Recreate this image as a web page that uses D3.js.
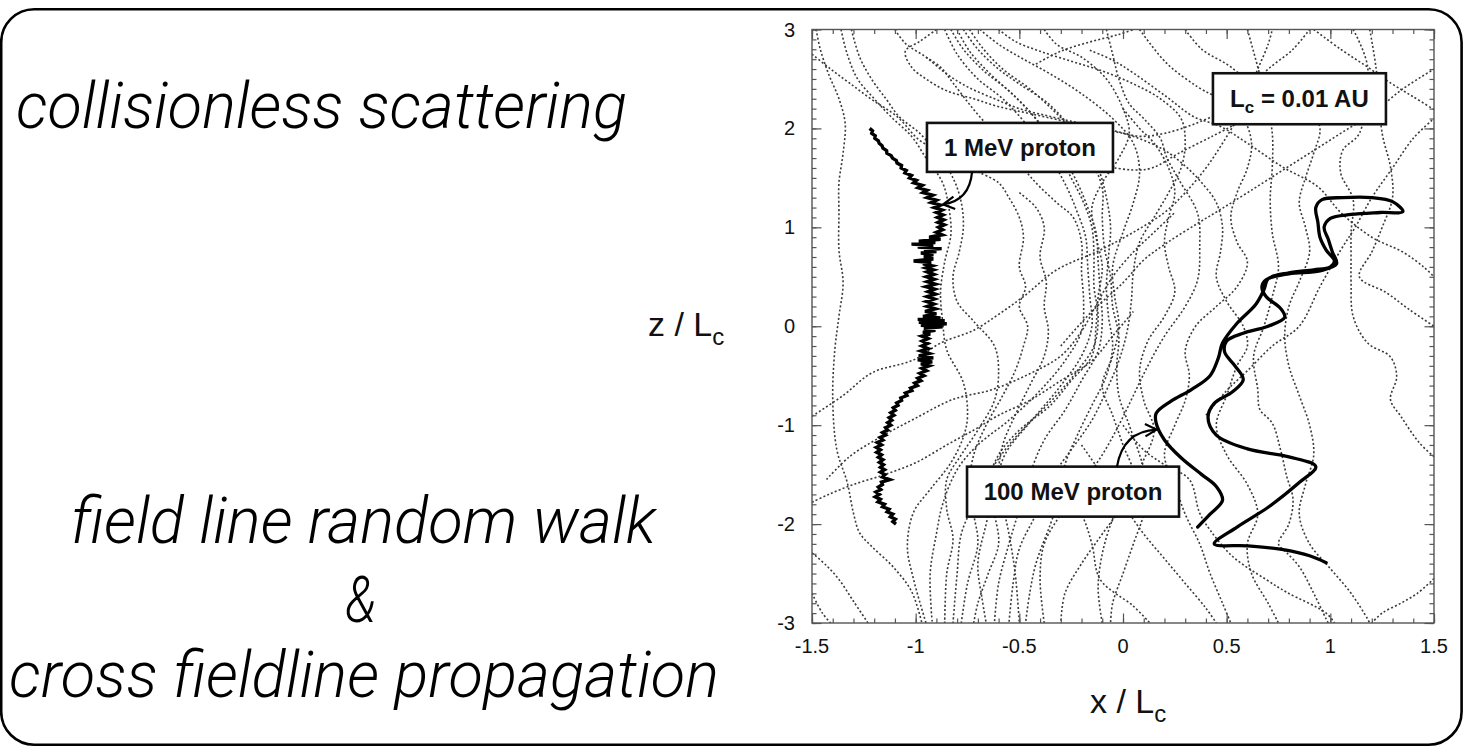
<!DOCTYPE html>
<html>
<head>
<meta charset="utf-8">
<script src="https://cdn.jsdelivr.net/npm/d3@7"></script>
<style>
  html, body { margin: 0; padding: 0; background: #fff; }
  svg { display: block; }
</style>
</head>
<body>
<svg id="fig" width="1463" height="748"></svg>
<script>
// ---------- axis ticks ----------
const xTicks = [-1.5, -1, -0.5, 0, 0.5, 1, 1.5];
const xTickLabels = ["-1.5", "-1", "-0.5", "0", "0.5", "1", "1.5"];
const zTicks = [-3, -2, -1, 0, 1, 2, 3];
const zTickLabels = ["-3", "-2", "-1", "0", "1", "2", "3"];

// ---------- side headings ----------
const headingTop = "collisionless scattering";
const headingBottom = ["field line random walk", "&", "cross fieldline propagation"];

// ---------- annotation texts ----------
const label1MeV = "1 MeV proton";
const label100MeV = "100 MeV proton";
const labelLc = ["L", "c", " = 0.01 AU"];

// ---------- 1 MeV proton trajectory [x/Lc, z/Lc] ----------
const proton1MeV = [
  [-1.222,2.000],[-1.208,1.975],[-1.212,1.950],[-1.195,1.925],[-1.197,1.900],[-1.180,1.875],
  [-1.176,1.850],[-1.162,1.825],[-1.158,1.800],[-1.140,1.775],[-1.139,1.750],[-1.118,1.725],
  [-1.112,1.700],[-1.093,1.675],[-1.090,1.650],[-1.068,1.625],[-1.070,1.600],[-1.045,1.575],
  [-1.052,1.550],[-1.020,1.525],[-1.030,1.500],[-0.996,1.475],[-1.010,1.450],[-0.968,1.425],
  [-0.988,1.400],[-0.945,1.375],[-0.965,1.350],[-0.918,1.325],[-0.945,1.300],[-0.900,1.275],
  [-0.925,1.250],[-0.880,1.225],[-0.910,1.200],[-0.872,1.175],[-0.900,1.150],[-0.868,1.125],
  [-0.895,1.100],[-0.865,1.075],[-0.892,1.050],[-0.862,1.025],[-0.890,1.000],[-0.870,0.975],
  [-0.900,0.950],[-0.872,0.925],[-0.935,0.900],[-0.880,0.880],[-0.985,0.860],[-0.905,0.845],
  [-1.020,0.830],[-0.915,0.815],[-0.990,0.800],[-0.875,0.785],[-0.960,0.770],[-0.900,0.755],
  [-0.975,0.740],[-0.915,0.725],[-0.960,0.700],[-0.915,0.680],[-1.010,0.660],[-0.925,0.645],
  [-0.965,0.630],[-0.920,0.610],[-0.950,0.590],[-0.915,0.570],[-0.945,0.550],[-0.912,0.525],
  [-0.948,0.500],[-0.910,0.475],[-0.945,0.450],[-0.905,0.425],[-0.950,0.400],[-0.908,0.375],
  [-0.940,0.350],[-0.905,0.325],[-0.945,0.300],[-0.910,0.275],[-0.948,0.250],[-0.912,0.225],
  [-0.945,0.200],[-0.905,0.175],[-0.955,0.150],[-0.900,0.125],[-0.965,0.100],[-0.880,0.085],
  [-0.990,0.070],[-0.860,0.055],[-0.985,0.040],[-0.850,0.025],[-0.975,0.010],[-0.870,-0.005],
  [-0.960,-0.020],[-0.905,-0.040],[-0.965,-0.060],[-0.930,-0.080],[-0.970,-0.100],[-0.940,-0.125],
  [-0.968,-0.150],[-0.942,-0.175],[-0.970,-0.200],[-0.940,-0.225],[-0.975,-0.250],[-0.935,-0.275],
  [-0.985,-0.300],[-0.915,-0.320],[-0.990,-0.340],[-0.920,-0.360],[-0.975,-0.380],[-0.935,-0.400],
  [-0.970,-0.425],[-0.948,-0.450],[-0.980,-0.475],[-0.960,-0.500],[-0.990,-0.525],[-0.975,-0.550],
  [-1.005,-0.575],[-0.992,-0.600],[-1.025,-0.625],[-1.018,-0.650],[-1.050,-0.675],[-1.042,-0.700],
  [-1.072,-0.725],[-1.068,-0.750],[-1.092,-0.775],[-1.085,-0.800],[-1.108,-0.825],[-1.098,-0.850],
  [-1.120,-0.875],[-1.105,-0.900],[-1.128,-0.925],[-1.115,-0.950],[-1.135,-0.975],[-1.120,-1.000],
  [-1.145,-1.025],[-1.135,-1.050],[-1.160,-1.075],[-1.145,-1.100],[-1.172,-1.125],[-1.158,-1.150],
  [-1.185,-1.175],[-1.165,-1.200],[-1.190,-1.225],[-1.170,-1.250],[-1.188,-1.275],[-1.165,-1.300],
  [-1.180,-1.325],[-1.158,-1.350],[-1.175,-1.375],[-1.155,-1.400],[-1.170,-1.425],[-1.150,-1.450],
  [-1.170,-1.475],[-1.148,-1.500],[-1.160,-1.525],[-1.125,-1.550],[-1.165,-1.575],[-1.160,-1.600],
  [-1.180,-1.625],[-1.168,-1.650],[-1.192,-1.675],[-1.175,-1.700],[-1.195,-1.725],[-1.170,-1.750],
  [-1.182,-1.775],[-1.150,-1.800],[-1.160,-1.825],[-1.128,-1.850],[-1.138,-1.875],[-1.110,-1.900],
  [-1.122,-1.925],[-1.098,-1.950],[-1.110,-1.975],[-1.095,-2.000]
];

// ---------- 100 MeV proton trajectory [x/Lc, z/Lc] ----------
const proton100MeV = [
  [0.36,-2.03],[0.42,-1.90],[0.48,-1.76],[0.45,-1.62],[0.38,-1.50],[0.28,-1.33],[0.20,-1.15],
  [0.16,-0.98],[0.16,-0.88],[0.23,-0.76],[0.33,-0.64],[0.42,-0.50],[0.46,-0.32],[0.48,-0.17],
  [0.55,0.03],[0.64,0.22],[0.68,0.37],[0.70,0.48],[0.80,0.54],[0.92,0.57],[1.00,0.60],
  [1.02,0.66],[0.98,0.77],[0.95,0.90],[0.94,1.05],[0.93,1.20],[0.96,1.28],[1.06,1.30],
  [1.20,1.30],[1.30,1.26],[1.35,1.16],[1.24,1.15],[1.10,1.13],[1.00,1.09],[0.97,1.00],
  [0.99,0.88],[1.01,0.75],[1.03,0.63],[0.95,0.56],[0.80,0.53],[0.69,0.47],[0.67,0.40],
  [0.69,0.30],[0.76,0.18],[0.78,0.09],[0.70,0.00],[0.58,-0.07],[0.50,-0.15],[0.49,-0.26],
  [0.54,-0.40],[0.58,-0.54],[0.53,-0.66],[0.44,-0.78],[0.41,-0.92],[0.45,-1.10],[0.60,-1.24],
  [0.80,-1.32],[0.93,-1.42],[0.85,-1.58],[0.70,-1.83],[0.55,-2.03],[0.44,-2.20],[0.60,-2.22],
  [0.78,-2.26],[0.90,-2.32],[0.98,-2.39]
];

// ---------- traced magnetic field lines [x/Lc, z/Lc] ----------
const fieldLines = [
  [[-1.48,3],[-1.46,2.8],[-1.42,2.55],[-1.37,2.3],[-1.34,2.05],[-1.35,1.75],[-1.37,1.45],[-1.37,1.15],[-1.37,0.77],[-1.35,0.44],[-1.37,0.1],[-1.39,-0.24],[-1.4,-0.74],[-1.38,-1.25],[-1.33,-1.58],[-1.3,-1.89],[-1.27,-2.09],[-1.21,-2.23],[-1.11,-2.43],[-1.02,-2.68],[-0.97,-3]],
  [[-1.5,2.75],[-1.41,2.6],[-1.32,2.46],[-1.21,2.29],[-1.09,2.12],[-0.96,1.85],[-0.8,1.78],[-0.55,1.74],[-0.3,1.68],[-0.1,1.62],[0.05,1.58],[0.14,1.6],[0.27,1.75],[0.43,1.92],[0.55,2.05]],
  [[-1.36,3],[-1.33,2.75],[-1.28,2.5],[-1.2,2.3],[-1.12,2.12],[-1.02,1.92],[-0.95,1.7],[-0.87,1.45],[-0.84,1.2],[-0.83,0.93],[-0.86,0.65],[-0.88,0.35],[-0.87,0.05],[-0.85,-0.24],[-0.77,-0.57],[-0.75,-0.91],[-0.77,-1.12],[-0.83,-1.38],[-0.93,-1.65],[-1.01,-1.88],[-1.04,-2.23],[-1.01,-2.56],[-0.95,-3]],
  [[-1.31,3],[-1.27,2.72],[-1.21,2.49],[-1.14,2.29],[-1.08,2.12],[-0.98,1.95],[-0.9,1.75],[-0.82,1.5],[-0.78,1.25],[-0.77,1.0],[-0.79,0.75],[-0.82,0.5],[-0.8,0.25],[-0.72,0.05],[-0.62,-0.2],[-0.6,-0.45],[-0.62,-0.75],[-0.7,-1.05],[-0.78,-1.3],[-0.85,-1.55],[-0.85,-1.85],[-0.82,-2.15],[-0.85,-2.5],[-0.86,-3]],
  [[-0.9,3],[-0.98,2.88],[-1.05,2.78],[-1.02,2.62],[-0.95,2.5],[-0.85,2.38],[-0.72,2.3],[-0.6,2.22],[-0.45,2.15],[-0.3,2.08],[-0.15,2.0],[0.0,1.95],[0.1,1.88],[0.2,1.78],[0.3,1.62],[0.38,1.45],[0.45,1.25],[0.48,1.0],[0.47,0.75],[0.45,0.5],[0.5,0.25],[0.58,0.0],[0.6,-0.2],[0.55,-0.4],[0.5,-0.7],[0.45,-1.0],[0.5,-1.3],[0.6,-1.6],[0.65,-1.9],[0.6,-2.2],[0.62,-2.5],[0.7,-2.8],[0.75,-3]],
  [[-1.1,3],[-1.05,2.86],[-0.95,2.72],[-0.85,2.55],[-0.75,2.42],[-0.62,2.3],[-0.5,2.2],[-0.35,2.12],[-0.2,2.05],[-0.05,1.98],[0.08,1.92],[0.2,1.95],[0.35,2.05],[0.5,2.2],[0.6,2.4],[0.7,2.6],[0.82,2.8],[0.9,3]],
  [[-0.86,3],[-0.8,2.75],[-0.7,2.5],[-0.58,2.3],[-0.45,2.0],[-0.35,1.7],[-0.27,1.4],[-0.22,1.15],[-0.18,0.9],[-0.17,0.6],[-0.16,0.3],[-0.15,0.0],[-0.2,-0.3],[-0.3,-0.6],[-0.42,-0.9],[-0.55,-1.2],[-0.65,-1.5],[-0.72,-1.8],[-0.78,-2.1],[-0.8,-2.5],[-0.82,-3]],
  [[-0.83,3],[-0.77,2.8],[-0.67,2.58],[-0.55,2.38],[-0.43,2.12],[-0.33,1.82],[-0.25,1.5],[-0.19,1.25],[-0.15,1.0],[-0.14,0.7],[-0.14,0.4],[-0.12,0.1],[-0.14,-0.2],[-0.22,-0.45],[-0.33,-0.72],[-0.46,-1.0],[-0.57,-1.3],[-0.62,-1.65],[-0.66,-2.0],[-0.7,-2.4],[-0.68,-2.75],[-0.66,-3]],
  [[-0.8,3],[-0.74,2.78],[-0.64,2.55],[-0.52,2.32],[-0.4,2.05],[-0.3,1.75],[-0.22,1.45],[-0.17,1.2],[-0.13,0.95],[-0.12,0.65],[-0.11,0.35],[-0.1,0.05],[-0.12,-0.25],[-0.2,-0.55],[-0.28,-0.85],[-0.38,-1.15],[-0.45,-1.5],[-0.5,-1.85],[-0.55,-2.2],[-0.6,-2.6],[-0.62,-3]],
  [[-0.77,3],[-0.7,2.8],[-0.6,2.6],[-0.5,2.45],[-0.36,2.25],[-0.25,2.0],[-0.16,1.7],[-0.1,1.4],[-0.1,1.1],[-0.09,0.8],[-0.06,0.5],[-0.05,0.2],[-0.02,-0.1],[-0.03,-0.4],[-0.02,-0.7],[0.03,-1.0],[0.08,-1.3],[0.12,-1.6],[0.1,-1.9],[0.05,-2.2],[0.0,-2.5],[-0.05,-2.8],[-0.06,-3]],
  [[-0.74,3],[-0.68,2.82],[-0.58,2.6],[-0.45,2.4],[-0.32,2.15],[-0.2,1.9],[-0.12,1.6],[-0.08,1.3],[-0.06,1.0],[-0.07,0.7],[-0.08,0.4],[-0.07,0.1],[-0.05,-0.2],[-0.08,-0.5],[-0.15,-0.8],[-0.22,-1.1],[-0.28,-1.4],[-0.3,-1.7],[-0.35,-2.0],[-0.42,-2.4],[-0.45,-2.7],[-0.47,-3]],
  [[-0.69,3],[-0.6,2.85],[-0.48,2.7],[-0.35,2.55],[-0.2,2.35],[-0.05,2.1],[0.05,1.85],[0.08,1.55],[0.05,1.25],[0.0,0.95],[-0.05,0.6],[-0.04,0.3],[-0.02,0.0],[-0.05,-0.3],[-0.1,-0.6],[-0.05,-0.9],[0.0,-1.2],[0.05,-1.5],[0.0,-1.8],[-0.1,-2.1],[-0.2,-2.4],[-0.28,-2.7],[-0.3,-3]],
  [[-0.95,2.72],[-0.88,2.62],[-0.82,2.46],[-0.72,2.19],[-0.62,1.95],[-0.52,1.7],[-0.42,1.45],[-0.32,1.25],[-0.24,1.1],[-0.2,0.85],[-0.2,0.55],[-0.19,0.25],[-0.2,-0.05],[-0.28,-0.35],[-0.4,-0.65],[-0.55,-0.95],[-0.7,-1.2],[-0.8,-1.45],[-0.87,-1.8],[-0.9,-2.1],[-0.93,-2.5],[-0.92,-3]],
  [[-0.6,3],[-0.52,2.88],[-0.4,2.78],[-0.25,2.68],[-0.1,2.58],[0.05,2.45],[0.18,2.3],[0.28,2.1],[0.3,1.85],[0.28,1.6],[0.22,1.35],[0.15,1.1],[0.08,0.85],[0.05,0.55],[0.04,0.25],[0.02,-0.05],[-0.02,-0.35],[-0.08,-0.65],[-0.15,-0.95],[-0.25,-1.25],[-0.35,-1.55],[-0.42,-1.9],[-0.5,-2.25],[-0.53,-2.6],[-0.55,-3]],
  [[-0.08,3],[-0.05,2.75],[-0.02,2.5],[0.03,2.25],[0.1,2.1],[0.18,1.9],[0.21,1.71],[0.27,1.48],[0.36,1.14],[0.37,0.8],[0.36,0.47],[0.3,0.2],[0.2,-0.1],[0.12,-0.4],[0.05,-0.7],[-0.02,-1.0],[-0.1,-1.3],[-0.2,-1.6],[-0.3,-1.9],[-0.38,-2.2],[-0.4,-2.55],[-0.38,-3]],
  [[-0.38,3],[-0.32,2.85],[-0.2,2.72],[-0.08,2.5],[0.0,2.2],[0.03,1.95],[-0.02,1.7],[-0.1,1.45],[-0.15,1.2],[-0.13,0.9],[-0.1,0.6],[-0.12,0.3],[-0.13,0.0],[-0.15,-0.3],[-0.25,-0.55],[-0.35,-0.8],[-0.5,-1.05],[-0.6,-1.3],[-0.65,-1.6],[-0.62,-1.9],[-0.6,-2.2],[-0.65,-2.5],[-0.7,-2.8],[-0.72,-3]],
  [[-0.7,1.56],[-0.6,1.45],[-0.55,1.3],[-0.5,1.1],[-0.48,0.9],[-0.5,0.6],[-0.47,0.4],[-0.5,0.2],[-0.46,0.0],[-0.48,-0.2],[-0.52,-0.45],[-0.58,-0.7],[-0.66,-1.0],[-0.72,-1.3],[-0.74,-1.6],[-0.72,-1.9],[-0.7,-2.2],[-0.75,-2.6],[-0.78,-3]],
  [[-0.5,1.35],[-0.42,1.2],[-0.38,1.0],[-0.4,0.7],[-0.37,0.45],[-0.38,0.2],[-0.36,-0.05],[-0.38,-0.3],[-0.45,-0.6],[-0.52,-0.9],[-0.58,-1.2],[-0.6,-1.5],[-0.58,-1.8],[-0.55,-2.1],[-0.52,-2.5],[-0.5,-3]],
  [[-1.5,-0.91],[-1.35,-0.7],[-1.21,-0.47],[-1.01,-0.34],[-0.88,-0.17],[-0.72,-0.04],[-0.6,0.12],[-0.48,0.3],[-0.32,0.57],[-0.11,0.77],[0.05,0.95],[0.2,1.15],[0.3,1.35],[0.4,1.6],[0.48,1.85],[0.55,2.1],[0.6,2.35],[0.65,2.6],[0.7,2.85],[0.72,3]],
  [[-0.3,-0.2],[-0.15,0.15],[0.0,0.44],[0.1,0.67],[0.21,0.84],[0.36,1.04],[0.47,1.18],[0.6,1.35],[0.75,1.55],[0.9,1.75],[1.05,1.95],[1.2,2.15],[1.35,2.4],[1.5,2.6]],
  [[-1.43,-1.55],[-1.32,-1.32],[-1.17,-1.12],[-1.01,-0.94],[-0.82,-0.74],[-0.63,-0.64],[-0.45,-0.48],[-0.3,-0.3],[-0.2,-0.05],[-0.12,0.25],[-0.05,0.5],[0.05,0.75],[0.15,0.95],[0.25,1.15]],
  [[-1.5,-1.78],[-1.42,-1.7],[-1.3,-1.6],[-1.15,-1.5],[-1.0,-1.38],[-0.85,-1.2],[-0.72,-1.05],[-0.6,-0.9],[-0.45,-0.75],[-0.3,-0.55],[-0.15,-0.35],[-0.05,-0.1],[0.05,0.15]],
  [[-1.5,-2.29],[-1.43,-2.42],[-1.37,-2.56],[-1.3,-2.78],[-1.23,-3]],
  [[-1.5,-2.7],[-1.45,-2.9],[-1.41,-3]],
  [[0.6,3],[0.65,2.62],[0.69,2.29],[0.72,1.95],[0.72,1.61],[0.71,1.28],[0.72,0.94],[0.75,0.6],[0.72,0.3],[0.68,0.0],[0.63,-0.3],[0.65,-0.64],[0.66,-0.84],[0.72,-0.98],[0.76,-1.25],[0.79,-1.52],[0.82,-1.75],[0.8,-2.0],[0.75,-2.2],[0.79,-2.29],[0.85,-2.43],[0.92,-2.7],[0.98,-2.96],[0.99,-3]],
  [[1.11,3],[1.18,2.62],[1.14,1.95],[1.06,1.78],[1.05,1.55],[1.11,1.28],[1.1,0.95],[1.1,0.7],[1.1,0.44],[1.11,0.1],[1.18,-0.17],[1.29,-0.31],[1.32,-0.51],[1.29,-0.74],[1.34,-0.91],[1.43,-1.18],[1.5,-1.32]],
  [[1.19,3],[1.22,2.62],[1.25,1.95],[1.29,1.61],[1.3,1.3],[1.25,1.0],[1.2,0.75],[1.14,0.5],[1.27,0.34],[1.38,0.17],[1.5,0.0]],
  [[0.92,3],[1.05,2.8],[1.18,2.62],[1.29,2.46],[1.4,2.32],[1.5,2.19]],
  [[0.4,-0.9],[0.5,-0.65],[0.6,-0.45],[0.72,-0.2],[0.85,0.0],[0.95,0.4],[1.05,0.77],[1.12,1.0],[1.2,1.3],[1.3,1.6],[1.4,1.9],[1.5,2.1]],
  [[-0.16,2.79],[-0.05,2.69],[0.05,2.56],[0.21,2.32],[0.34,2.12],[0.47,2.02],[0.6,1.85],[0.77,1.61],[0.94,1.41],[1.05,1.15],[1.2,0.9],[1.35,0.75],[1.45,0.6],[1.5,0.5]],
  [[0.08,3],[0.21,2.66],[0.36,2.42],[0.47,2.29],[0.58,2.1],[0.62,1.85],[0.6,1.6],[0.55,1.35],[0.52,1.1],[0.55,0.85],[0.6,0.65],[0.55,0.4],[0.45,0.2],[0.35,0.0],[0.3,-0.25],[0.32,-0.5],[0.3,-0.75],[0.25,-1.0],[0.2,-1.3],[0.25,-1.6],[0.3,-1.9],[0.37,-2.2],[0.42,-2.5],[0.48,-2.8],[0.52,-3]],
  [[0.3,3],[0.38,2.8],[0.5,2.65],[0.6,2.5],[0.78,2.35],[0.9,2.2],[0.95,2.0],[0.92,1.75],[0.88,1.5],[0.85,1.25],[0.88,1.0],[0.9,0.75],[0.85,0.45],[0.8,0.2],[0.78,-0.1],[0.8,-0.4],[0.85,-0.7],[0.9,-1.0],[0.92,-1.3],[0.88,-1.6],[0.85,-1.9],[0.9,-2.2],[1.0,-2.45],[1.1,-2.7],[1.18,-2.96],[1.19,-3]],
  [[1.5,-2.55],[1.42,-2.7],[1.34,-2.8],[1.25,-2.9],[1.2,-3]],
  [[0.0,2.2],[0.08,2.0],[0.15,1.85],[0.22,1.6],[0.25,1.35],[0.22,1.1],[0.2,0.85],[0.22,0.6],[0.25,0.35],[0.2,0.1],[0.12,-0.15],[0.08,-0.45],[0.1,-0.75],[0.15,-1.05],[0.1,-1.35],[0.02,-1.65],[-0.05,-1.95],[-0.1,-2.3],[-0.12,-2.65],[-0.1,-3]],
  [[-0.42,2.65],[-0.3,2.78],[-0.15,2.88],[-0.02,2.95],[0.05,3]],
  [[-0.3,-1.6],[-0.2,-1.9],[-0.15,-2.2],[-0.11,-2.56],[0.05,-2.83],[0.13,-3]],
  [[0.0,-1.0],[0.1,-1.25],[0.2,-1.4],[0.32,-1.55],[0.37,-1.89],[0.42,-2.06],[0.53,-2.33],[0.69,-2.56],[0.79,-2.69],[0.98,-2.9],[1.02,-3]],
  [[-0.2,-1.2],[-0.1,-1.5],[0.0,-1.8],[0.1,-2.1],[0.2,-2.35],[0.3,-2.6],[0.4,-2.85],[0.45,-3]]
];

// ---------- drawing ----------
const svg = d3.select("#fig");
const W = 1463, H = 748;

// rounded outer panel
svg.append("rect")
  .attr("x", 1.2).attr("y", 9.2).attr("width", W - 2.6).attr("height", 735.5)
  .attr("rx", 33).attr("ry", 33)
  .attr("fill", "none").attr("stroke", "#000").attr("stroke-width", 2.6);

// side headings (light italic sans)
const headFont = "Roboto, 'Liberation Sans', Arial, sans-serif";
function heading(txt, xLeft, baseline, len) {
  svg.append("text")
    .attr("x", xLeft).attr("y", baseline)
    .attr("font-family", headFont).attr("font-style", "italic").attr("font-weight", 300)
    .attr("font-size", 64).attr("fill", "#000")
    .attr("textLength", len).attr("lengthAdjust", "spacingAndGlyphs")
    .text(txt);
}
heading(headingTop, 16, 128, 611);
heading(headingBottom[0], 71, 543, 585);
heading(headingBottom[1], 345, 622, 31);
heading(headingBottom[2], 9, 697, 710);

// plot scales
const x = d3.scaleLinear().domain([-1.5, 1.5]).range([812, 1434]);
const y = d3.scaleLinear().domain([-3, 3]).range([623, 29.5]);

const plot = svg.append("g");
plot.append("clipPath").attr("id", "plotClip")
  .append("rect")
  .attr("x", x(-1.5)).attr("y", y(3))
  .attr("width", x(1.5) - x(-1.5)).attr("height", y(-3) - y(3));

// field lines (dotted)
const fieldLine = d3.line()
  .x(d => x(d[0])).y(d => y(d[1]))
  .curve(d3.curveCatmullRom.alpha(0.5));
plot.append("g").attr("clip-path", "url(#plotClip)")
  .selectAll("path").data(fieldLines).join("path")
  .attr("d", fieldLine)
  .attr("fill", "none").attr("stroke", "#3a3a3a")
  .attr("stroke-width", 1.6).attr("stroke-dasharray", "2 2.2");

// axes: minor + major ticks on all four sides, pointing inward
const axisColor = "#555";
const minorX = d3.range(-15, 16).map(v => v / 10);
const minorZ = d3.range(-30, 31).map(v => v / 10);
function styleAxis(g) {
  g.select(".domain").remove();
  g.selectAll("line").attr("stroke", axisColor).attr("stroke-width", 1.2);
}
const axesDefs = [
  [d3.axisBottom(x), y(-3), 0, minorX, xTicks],
  [d3.axisTop(x), y(3), 0, minorX, xTicks],
  [d3.axisLeft(y), 0, x(-1.5), minorZ, zTicks],
  [d3.axisRight(y), 0, x(1.5), minorZ, zTicks]
];
axesDefs.forEach(([ax, ty, tx, minor, major]) => {
  plot.append("g").attr("transform", `translate(${tx},${ty})`)
    .call(ax.tickValues(minor).tickSize(-4.5).tickFormat(""))
    .call(styleAxis);
  plot.append("g").attr("transform", `translate(${tx},${ty})`)
    .call(ax.tickValues(major).tickSize(-9.5).tickFormat(""))
    .call(styleAxis);
});

// frame
plot.append("rect")
  .attr("x", x(-1.5)).attr("y", y(3))
  .attr("width", x(1.5) - x(-1.5)).attr("height", y(-3) - y(3))
  .attr("fill", "none").attr("stroke", axisColor).attr("stroke-width", 1.4);

// tick labels
const tickFont = "'Liberation Sans', Arial, sans-serif";
plot.append("g").selectAll("text").data(xTicks).join("text")
  .attr("x", d => x(d)).attr("y", y(-3) + 30)
  .attr("text-anchor", "middle")
  .attr("font-family", tickFont).attr("font-size", 20).attr("fill", "#111")
  .text((d, i) => xTickLabels[i]);
plot.append("g").selectAll("text").data(zTicks).join("text")
  .attr("x", x(-1.5) - 17).attr("y", d => y(d) + 7)
  .attr("text-anchor", "end")
  .attr("font-family", tickFont).attr("font-size", 20).attr("fill", "#111")
  .text((d, i) => zTickLabels[i]);

// axis titles
function axisTitle(xPos, baseline, sym) {
  const t = svg.append("text").attr("x", xPos).attr("y", baseline)
    .attr("font-family", tickFont).attr("font-size", 34).attr("fill", "#111");
  t.append("tspan").text(sym + " / L");
  t.append("tspan").attr("font-size", 24).attr("dy", 9).text("c");
}
axisTitle(648, 336, "z");
axisTitle(1090, 713, "x");

// proton trajectories
const jagged = d3.line().x(d => x(d[0])).y(d => y(d[1]));
plot.append("path").datum(proton1MeV)
  .attr("d", jagged)
  .attr("fill", "none").attr("stroke", "#000")
  .attr("stroke-width", 3.4).attr("stroke-linejoin", "miter");

const smooth = d3.line().x(d => x(d[0])).y(d => y(d[1]))
  .curve(d3.curveCatmullRom.alpha(0.5));
plot.append("path").datum(proton100MeV)
  .attr("d", smooth)
  .attr("fill", "none").attr("stroke", "#000")
  .attr("stroke-width", 3.3).attr("stroke-linejoin", "round").attr("stroke-linecap", "round");

// annotation boxes
function labelBox(cx, cy, w, h, build) {
  const px = x(cx), py = y(cy);
  plot.append("rect")
    .attr("x", px - w / 2).attr("y", py - h / 2).attr("width", w).attr("height", h)
    .attr("fill", "#fff").attr("stroke", "#111").attr("stroke-width", 2.6);
  const t = plot.append("text")
    .attr("x", px).attr("y", py + 8.5).attr("text-anchor", "middle")
    .attr("font-family", tickFont).attr("font-weight", "bold")
    .attr("font-size", 24).attr("fill", "#111");
  build(t);
}
labelBox(-0.497, 1.808, 186, 49, t => t.text(label1MeV));
labelBox(-0.241, -1.672, 212, 50, t => t.text(label100MeV));
labelBox(0.851, 2.30, 173, 51, t => {
  t.append("tspan").text(labelLc[0]);
  t.append("tspan").attr("font-size", 17).attr("dy", 6).text(labelLc[1]);
  t.append("tspan").attr("dy", -6).text(labelLc[2]);
});

// curved arrows from the boxes to the trajectories
function arrow(from, ctrl, to) {
  const p0 = [x(from[0]), y(from[1])], c = [x(ctrl[0]), y(ctrl[1])], p1 = [x(to[0]), y(to[1])];
  const p = d3.path();
  p.moveTo(p0[0], p0[1]);
  p.quadraticCurveTo(c[0], c[1], p1[0], p1[1]);
  plot.append("path").attr("d", p.toString())
    .attr("fill", "none").attr("stroke", "#000").attr("stroke-width", 2.2);
  const ang = Math.atan2(p1[1] - c[1], p1[0] - c[0]);
  const L = 13, spread = 0.5;
  const head = d3.path();
  head.moveTo(p1[0] - L * Math.cos(ang - spread), p1[1] - L * Math.sin(ang - spread));
  head.lineTo(p1[0], p1[1]);
  head.lineTo(p1[0] - L * Math.cos(ang + spread), p1[1] - L * Math.sin(ang + spread));
  plot.append("path").attr("d", head.toString())
    .attr("fill", "none").attr("stroke", "#000").attr("stroke-width", 2.2);
}
arrow([-0.728, 1.561], [-0.74, 1.27], [-0.868, 1.232]);
arrow([-0.029, -1.419], [0.0, -1.06], [0.162, -1.045]);
</script>
</body>
</html>
